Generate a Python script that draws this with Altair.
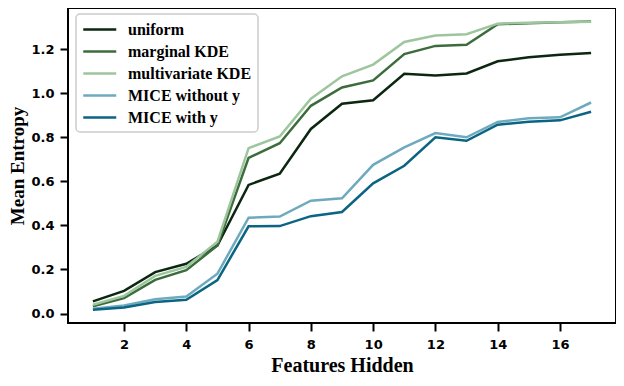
import altair as alt
import pandas as pd

features_hidden = list(range(1, 18))
series_names = ["uniform", "marginal KDE", "multivariate KDE", "MICE without y", "MICE with y"]
series_colors = ["#0b2611", "#3c6c3c", "#9ec69e", "#6eaabe", "#0b6482"]

uniform = [0.055, 0.103, 0.188, 0.226, 0.31, 0.584, 0.635, 0.838, 0.952, 0.968,
           1.088, 1.081, 1.09, 1.145, 1.163, 1.175, 1.183]
marginal_kde = [0.033, 0.07, 0.153, 0.197, 0.309, 0.707, 0.773, 0.943, 1.026, 1.058,
                1.178, 1.215, 1.22, 1.313, 1.318, 1.322, 1.326]
multivariate_kde = [0.04, 0.08, 0.171, 0.212, 0.326, 0.751, 0.804, 0.975, 1.077, 1.13,
                    1.233, 1.262, 1.268, 1.316, 1.32, 1.322, 1.325]
mice_without_y = [0.022, 0.036, 0.065, 0.077, 0.181, 0.435, 0.44, 0.512, 0.523, 0.675,
                  0.754, 0.819, 0.80, 0.87, 0.886, 0.891, 0.958]
mice_with_y = [0.017, 0.027, 0.052, 0.062, 0.152, 0.396, 0.397, 0.442, 0.461, 0.591,
               0.671, 0.80, 0.784, 0.857, 0.871, 0.877, 0.916]

x_ticks = [2, 4, 6, 8, 10, 12, 14, 16]
y_ticks = [0.0, 0.2, 0.4, 0.6, 0.8, 1.0, 1.2]

all_series = [uniform, marginal_kde, multivariate_kde, mice_without_y, mice_with_y]
rows = []
for order, (name, vals) in enumerate(zip(series_names, all_series)):
    for x, v in zip(features_hidden, vals):
        rows.append({"features": x, "entropy": v, "method": name, "ord": order})
df = pd.DataFrame(rows)

serif = "Liberation Serif"
sans = "DejaVu Sans"

chart = alt.Chart(df).mark_line(strokeWidth=2.5).encode(
    x=alt.X("features:Q",
            scale=alt.Scale(domain=[0.2, 17.8], nice=False, zero=False),
            axis=alt.Axis(values=x_ticks, title="Features Hidden", format="d")),
    y=alt.Y("entropy:Q",
            scale=alt.Scale(domain=[-0.043, 1.387], nice=False, zero=False),
            axis=alt.Axis(values=y_ticks, title="Mean Entropy", format=".1f")),
    color=alt.Color("method:N",
                    scale=alt.Scale(domain=series_names, range=series_colors),
                    legend=alt.Legend(title=None, orient="none", legendX=8, legendY=6)),
    order=alt.Order("ord:Q"),
).properties(
    width=548,
    height=315,
    autosize=alt.AutoSizeParams(type="none"),
    padding={"left": 60, "top": 0, "right": 0, "bottom": 55},
).configure_view(
    stroke="black", strokeWidth=2
).configure_axis(
    grid=False,
    domain=False,
    tickSize=8,
    tickWidth=2,
    tickColor="black",
    labelFont=sans,
    labelFontWeight="bold",
    labelFontSize=13,
    labelColor="black",
    titleFont=serif,
    titleFontWeight="bold",
    titleColor="black",
).configure_axisX(
    labelPadding=7,
    titlePadding=4,
    titleFontSize=20,
).configure_axisY(
    labelPadding=6,
    titlePadding=3,
    titleFontSize=19,
).configure_legend(
    symbolType="M-1,0H3",
    symbolSize=272,
    symbolStrokeWidth=2.5,
    labelFont=serif,
    labelFontWeight="bold",
    labelFontSize=16,
    labelColor="black",
    labelOffset=27,
    rowPadding=4,
    padding=6,
    strokeColor="#cccccc",
    strokeWidth=1.5,
    fillColor="white",
    cornerRadius=4,
)

chart.save("out.html", embed_options={"renderer": "svg", "actions": False})
